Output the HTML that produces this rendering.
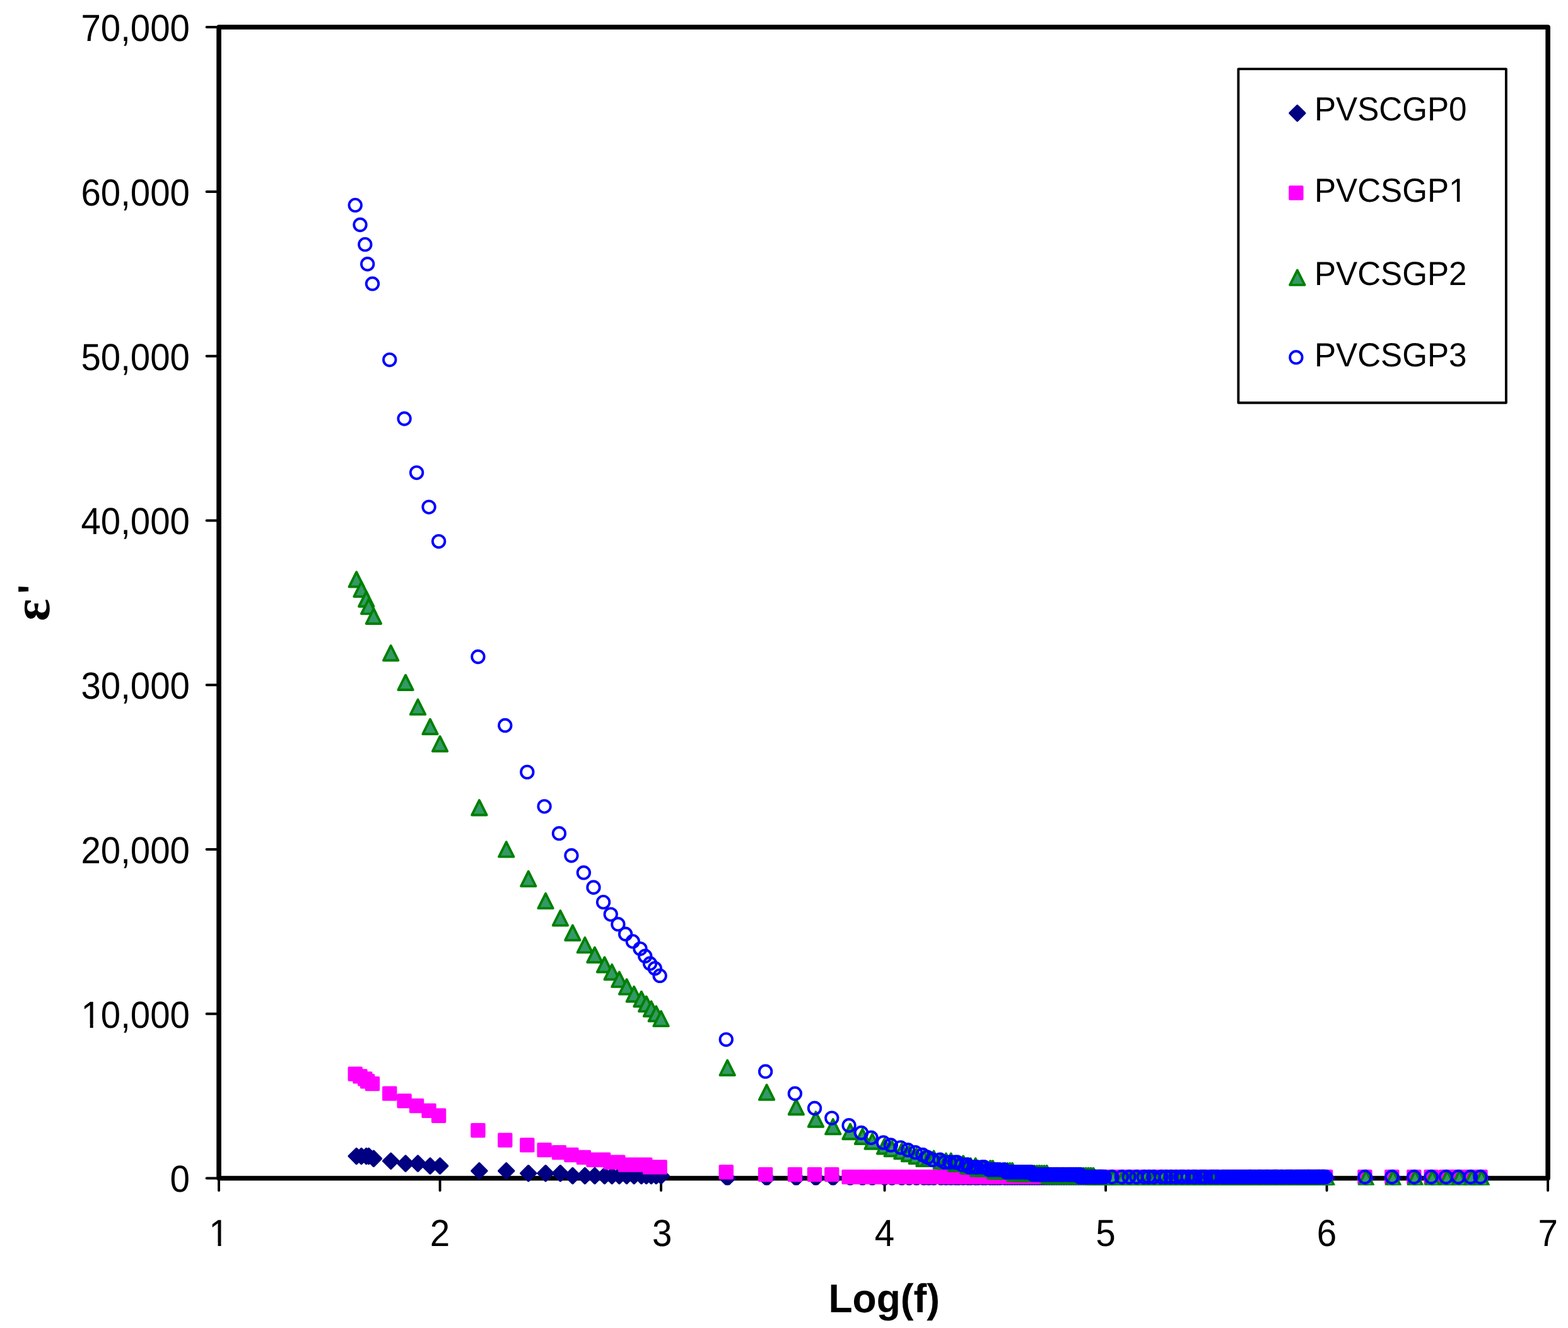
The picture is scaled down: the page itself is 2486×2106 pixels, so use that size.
<!DOCTYPE html>
<html lang="en"><head><meta charset="utf-8"><title>Dielectric constant vs Log(f)</title>
<style>html,body{margin:0;padding:0;background:#fff}body{width:2486px;height:2106px;overflow:hidden}svg{display:block}text{font-family:"Liberation Sans",sans-serif;fill:#000;text-rendering:geometricPrecision}.tk{font-size:59.8px}.lg{font-size:53px}.ti{font-size:63.7px;font-weight:bold}</style></head><body>
<svg width="2486" height="2106" viewBox="0 0 2486 2106" role="img" aria-label="Scatter chart of dielectric constant versus Log(f)">
<rect width="2486" height="2106" fill="#fff"/>
<path d="M327.56 43H347.04M327.56 303.99H347.04M327.56 564.74H347.04M327.56 825.48H347.04M327.56 1086.22H347.04M327.56 1346.97H347.04M327.56 1607.71H347.04M327.56 1868.46H347.04M347.04 1868.46V1887.91M697.57 1868.46V1887.91M1048.1 1868.46V1887.91M1402.53 1868.46V1887.91M1753.06 1868.46V1887.91M2103.59 1868.46V1887.91M2454.12 1868.46V1887.91" fill="none" stroke="#000" stroke-width="3.9" stroke-linecap="round"/>
<rect x="347.04" y="42.95" width="2107.09" height="1825.51" fill="none" stroke="#000" stroke-width="7.6" stroke-linejoin="round"/>
<text class="tk" x="300.9" y="64.8" text-anchor="end" textLength="172.37" lengthAdjust="spacingAndGlyphs">70,000</text>
<text class="tk" x="300.9" y="325.79" text-anchor="end" textLength="172.37" lengthAdjust="spacingAndGlyphs">60,000</text>
<text class="tk" x="300.9" y="586.54" text-anchor="end" textLength="172.37" lengthAdjust="spacingAndGlyphs">50,000</text>
<text class="tk" x="300.9" y="847.28" text-anchor="end" textLength="172.37" lengthAdjust="spacingAndGlyphs">40,000</text>
<text class="tk" x="300.9" y="1108.02" text-anchor="end" textLength="172.37" lengthAdjust="spacingAndGlyphs">30,000</text>
<text class="tk" x="300.9" y="1368.77" text-anchor="end" textLength="172.37" lengthAdjust="spacingAndGlyphs">20,000</text>
<text class="tk" x="300.9" y="1629.51" text-anchor="end" textLength="172.37" lengthAdjust="spacingAndGlyphs" clip-path="url(#c1)">10,000</text>
<text class="tk" x="300.9" y="1890.26" text-anchor="end" textLength="31.46" lengthAdjust="spacingAndGlyphs">0</text>
<text class="tk" x="347.04" y="1975.8" text-anchor="middle" textLength="31.46" lengthAdjust="spacingAndGlyphs" clip-path="url(#c2)">1</text>
<text class="tk" x="697.57" y="1975.8" text-anchor="middle" textLength="31.46" lengthAdjust="spacingAndGlyphs">2</text>
<text class="tk" x="1049.7" y="1975.8" text-anchor="middle" textLength="31.46" lengthAdjust="spacingAndGlyphs">3</text>
<text class="tk" x="1402.53" y="1975.8" text-anchor="middle" textLength="31.46" lengthAdjust="spacingAndGlyphs">4</text>
<text class="tk" x="1753.06" y="1975.8" text-anchor="middle" textLength="31.46" lengthAdjust="spacingAndGlyphs">5</text>
<text class="tk" x="2103.59" y="1975.8" text-anchor="middle" textLength="31.46" lengthAdjust="spacingAndGlyphs">6</text>
<text class="tk" x="2454.12" y="1975.8" text-anchor="middle" textLength="31.46" lengthAdjust="spacingAndGlyphs">7</text>
<text class="ti" x="1401.8" y="2080.9" text-anchor="middle" textLength="176.6" lengthAdjust="spacingAndGlyphs">Log(f)</text>
<text transform="translate(78 985) rotate(-90)"><tspan style="font-family:'Liberation Serif',serif;font-weight:bold;font-size:83px">ε</tspan><tspan class="ti" x="43.1" y="-4.9">'</tspan></text>
<rect x="1963.38" y="109.41" width="424.53" height="529.27" fill="#fff" stroke="#000" stroke-width="3.9" stroke-linejoin="round"/>
<path d="M2056.85 167.78l11.68 11.68l-11.68 11.68l-11.68 -11.68z" fill="#000080" stroke="#000080" stroke-width="3.89" stroke-linejoin="round"/>
<path d="M2045.17 296.21h19.47v19.46h-19.47z" fill="#ff00ff" stroke="#ff00ff" stroke-width="3.89" stroke-linejoin="round"/>
<path d="M2056.85 428.53l11.68 23.35h-23.37z" fill="#339966" stroke="#008000" stroke-width="3.89" stroke-linejoin="round"/>
<circle cx="2054.91" cy="566.68" r="9.74" fill="none" stroke="#0000ff" stroke-width="3.89"/>
<text class="lg" x="2084.0" y="191.2" textLength="241.48" lengthAdjust="spacingAndGlyphs">PVSCGP0</text>
<text class="lg" x="2084.0" y="320.2" textLength="241.48" lengthAdjust="spacingAndGlyphs" clip-path="url(#c3)">PVCSGP1</text>
<text class="lg" x="2084.0" y="452.1" textLength="241.48" lengthAdjust="spacingAndGlyphs">PVCSGP2</text>
<text class="lg" x="2084.0" y="580.6" textLength="241.48" lengthAdjust="spacingAndGlyphs">PVCSGP3</text>
<defs><clipPath id="c1"><path clip-rule="evenodd" d="M-9 -9H2500V2200H-9ZM131.82 1624.34H142.7V1630.51H131.82ZM147.68 1624.34H158.12V1630.51H147.68Z"/></clipPath><clipPath id="c2"><path clip-rule="evenodd" d="M-9 -9H2500V2200H-9ZM334.62 1970.63H345.53V1976.8H334.62ZM350.53 1970.63H361V1976.8H350.53Z"/></clipPath><clipPath id="c3"><path clip-rule="evenodd" d="M-9 -9H2500V2200H-9ZM2299.94 315.54H2309.9V321.2H2299.94ZM2314.42 315.54H2323.98V321.2H2314.42Z"/></clipPath><clipPath id="pc"><rect x="330" y="30" width="2140" height="1849.53"/></clipPath></defs>
<g clip-path="url(#pc)">
<path d="M565.15 1821.76l11.68 11.68l-11.68 11.68l-11.68 -11.68zM572.94 1821.76l11.68 11.68l-11.68 11.68l-11.68 -11.68zM580.73 1821.76l11.68 11.68l-11.68 11.68l-11.68 -11.68zM584.62 1821.76l11.68 11.68l-11.68 11.68l-11.68 -11.68zM592.41 1825.65l11.68 11.68l-11.68 11.68l-11.68 -11.68zM619.67 1829.54l11.68 11.68l-11.68 11.68l-11.68 -11.68zM643.04 1833.43l11.68 11.68l-11.68 11.68l-11.68 -11.68zM662.52 1833.43l11.68 11.68l-11.68 11.68l-11.68 -11.68zM681.99 1837.32l11.68 11.68l-11.68 11.68l-11.68 -11.68zM697.57 1837.32l11.68 11.68l-11.68 11.68l-11.68 -11.68zM759.89 1845.11l11.68 11.68l-11.68 11.68l-11.68 -11.68zM802.73 1845.11l11.68 11.68l-11.68 11.68l-11.68 -11.68zM837.78 1849l11.68 11.68l-11.68 11.68l-11.68 -11.68zM865.05 1849l11.68 11.68l-11.68 11.68l-11.68 -11.68zM888.41 1849l11.68 11.68l-11.68 11.68l-11.68 -11.68zM907.89 1852.89l11.68 11.68l-11.68 11.68l-11.68 -11.68zM927.36 1852.89l11.68 11.68l-11.68 11.68l-11.68 -11.68zM942.94 1852.89l11.68 11.68l-11.68 11.68l-11.68 -11.68zM958.52 1852.89l11.68 11.68l-11.68 11.68l-11.68 -11.68zM970.21 1852.89l11.68 11.68l-11.68 11.68l-11.68 -11.68zM981.89 1852.89l11.68 11.68l-11.68 11.68l-11.68 -11.68zM993.57 1852.89l11.68 11.68l-11.68 11.68l-11.68 -11.68zM1005.26 1852.89l11.68 11.68l-11.68 11.68l-11.68 -11.68zM1016.94 1852.89l11.68 11.68l-11.68 11.68l-11.68 -11.68zM1024.73 1852.89l11.68 11.68l-11.68 11.68l-11.68 -11.68zM1032.52 1852.89l11.68 11.68l-11.68 11.68l-11.68 -11.68zM1040.31 1852.89l11.68 11.68l-11.68 11.68l-11.68 -11.68zM1048.1 1852.89l11.68 11.68l-11.68 11.68l-11.68 -11.68zM1153.26 1856.78l11.68 11.68l-11.68 11.68l-11.68 -11.68zM1215.58 1856.78l11.68 11.68l-11.68 11.68l-11.68 -11.68zM1262.32 1856.78l11.68 11.68l-11.68 11.68l-11.68 -11.68zM1293.47 1856.78l11.68 11.68l-11.68 11.68l-11.68 -11.68zM1320.74 1856.78l11.68 11.68l-11.68 11.68l-11.68 -11.68zM1348 1856.78l11.68 11.68l-11.68 11.68l-11.68 -11.68zM1367.47 1856.78l11.68 11.68l-11.68 11.68l-11.68 -11.68zM1383.05 1856.78l11.68 11.68l-11.68 11.68l-11.68 -11.68zM1402.53 1856.78l11.68 11.68l-11.68 11.68l-11.68 -11.68zM1414.21 1856.78l11.68 11.68l-11.68 11.68l-11.68 -11.68zM1429.79 1856.78l11.68 11.68l-11.68 11.68l-11.68 -11.68zM1441.48 1856.78l11.68 11.68l-11.68 11.68l-11.68 -11.68zM1453.16 1856.78l11.68 11.68l-11.68 11.68l-11.68 -11.68zM1464.84 1856.78l11.68 11.68l-11.68 11.68l-11.68 -11.68zM1472.63 1856.78l11.68 11.68l-11.68 11.68l-11.68 -11.68zM1480.42 1856.78l11.68 11.68l-11.68 11.68l-11.68 -11.68zM1492.11 1856.78l11.68 11.68l-11.68 11.68l-11.68 -11.68zM1499.9 1856.78l11.68 11.68l-11.68 11.68l-11.68 -11.68zM1507.69 1856.78l11.68 11.68l-11.68 11.68l-11.68 -11.68zM1515.48 1856.78l11.68 11.68l-11.68 11.68l-11.68 -11.68zM1519.37 1856.78l11.68 11.68l-11.68 11.68l-11.68 -11.68zM1527.16 1856.78l11.68 11.68l-11.68 11.68l-11.68 -11.68zM1534.95 1856.78l11.68 11.68l-11.68 11.68l-11.68 -11.68zM1538.85 1856.78l11.68 11.68l-11.68 11.68l-11.68 -11.68zM1546.64 1856.78l11.68 11.68l-11.68 11.68l-11.68 -11.68zM1550.53 1856.78l11.68 11.68l-11.68 11.68l-11.68 -11.68zM1558.32 1856.78l11.68 11.68l-11.68 11.68l-11.68 -11.68zM1562.21 1856.78l11.68 11.68l-11.68 11.68l-11.68 -11.68zM1570 1856.78l11.68 11.68l-11.68 11.68l-11.68 -11.68zM1573.9 1856.78l11.68 11.68l-11.68 11.68l-11.68 -11.68zM1577.79 1856.78l11.68 11.68l-11.68 11.68l-11.68 -11.68zM1581.69 1856.78l11.68 11.68l-11.68 11.68l-11.68 -11.68zM1585.58 1856.78l11.68 11.68l-11.68 11.68l-11.68 -11.68zM1593.37 1856.78l11.68 11.68l-11.68 11.68l-11.68 -11.68zM1597.27 1856.78l11.68 11.68l-11.68 11.68l-11.68 -11.68zM1601.16 1856.78l11.68 11.68l-11.68 11.68l-11.68 -11.68zM1605.06 1856.78l11.68 11.68l-11.68 11.68l-11.68 -11.68zM1608.95 1856.78l11.68 11.68l-11.68 11.68l-11.68 -11.68zM1612.85 1856.78l11.68 11.68l-11.68 11.68l-11.68 -11.68zM1616.74 1856.78l11.68 11.68l-11.68 11.68l-11.68 -11.68zM1620.64 1856.78l11.68 11.68l-11.68 11.68l-11.68 -11.68zM1624.53 1856.78l11.68 11.68l-11.68 11.68l-11.68 -11.68zM1628.43 1856.78l11.68 11.68l-11.68 11.68l-11.68 -11.68zM1628.43 1856.78l11.68 11.68l-11.68 11.68l-11.68 -11.68zM1632.32 1856.78l11.68 11.68l-11.68 11.68l-11.68 -11.68zM1636.22 1856.78l11.68 11.68l-11.68 11.68l-11.68 -11.68zM1640.11 1856.78l11.68 11.68l-11.68 11.68l-11.68 -11.68zM1644.01 1856.78l11.68 11.68l-11.68 11.68l-11.68 -11.68zM1647.9 1856.78l11.68 11.68l-11.68 11.68l-11.68 -11.68zM1647.9 1856.78l11.68 11.68l-11.68 11.68l-11.68 -11.68zM1651.8 1856.78l11.68 11.68l-11.68 11.68l-11.68 -11.68zM1655.69 1856.78l11.68 11.68l-11.68 11.68l-11.68 -11.68zM1659.58 1856.78l11.68 11.68l-11.68 11.68l-11.68 -11.68zM1659.58 1856.78l11.68 11.68l-11.68 11.68l-11.68 -11.68zM1663.48 1856.78l11.68 11.68l-11.68 11.68l-11.68 -11.68zM1667.37 1856.78l11.68 11.68l-11.68 11.68l-11.68 -11.68zM1667.37 1856.78l11.68 11.68l-11.68 11.68l-11.68 -11.68zM1671.27 1856.78l11.68 11.68l-11.68 11.68l-11.68 -11.68zM1675.16 1856.78l11.68 11.68l-11.68 11.68l-11.68 -11.68zM1675.16 1856.78l11.68 11.68l-11.68 11.68l-11.68 -11.68zM1679.06 1856.78l11.68 11.68l-11.68 11.68l-11.68 -11.68zM1682.95 1856.78l11.68 11.68l-11.68 11.68l-11.68 -11.68zM1682.95 1856.78l11.68 11.68l-11.68 11.68l-11.68 -11.68zM1686.85 1856.78l11.68 11.68l-11.68 11.68l-11.68 -11.68zM1686.85 1856.78l11.68 11.68l-11.68 11.68l-11.68 -11.68zM1690.74 1856.78l11.68 11.68l-11.68 11.68l-11.68 -11.68zM1694.64 1856.78l11.68 11.68l-11.68 11.68l-11.68 -11.68zM1694.64 1856.78l11.68 11.68l-11.68 11.68l-11.68 -11.68zM1698.53 1856.78l11.68 11.68l-11.68 11.68l-11.68 -11.68zM1698.53 1856.78l11.68 11.68l-11.68 11.68l-11.68 -11.68zM1702.43 1856.78l11.68 11.68l-11.68 11.68l-11.68 -11.68zM1702.43 1856.78l11.68 11.68l-11.68 11.68l-11.68 -11.68zM1706.32 1856.78l11.68 11.68l-11.68 11.68l-11.68 -11.68zM1706.32 1856.78l11.68 11.68l-11.68 11.68l-11.68 -11.68zM1710.22 1856.78l11.68 11.68l-11.68 11.68l-11.68 -11.68zM1710.22 1856.78l11.68 11.68l-11.68 11.68l-11.68 -11.68zM1714.11 1856.78l11.68 11.68l-11.68 11.68l-11.68 -11.68zM1714.11 1856.78l11.68 11.68l-11.68 11.68l-11.68 -11.68zM1718.01 1856.78l11.68 11.68l-11.68 11.68l-11.68 -11.68zM1718.01 1856.78l11.68 11.68l-11.68 11.68l-11.68 -11.68zM1721.9 1856.78l11.68 11.68l-11.68 11.68l-11.68 -11.68zM1721.9 1856.78l11.68 11.68l-11.68 11.68l-11.68 -11.68zM1725.8 1856.78l11.68 11.68l-11.68 11.68l-11.68 -11.68zM1725.8 1856.78l11.68 11.68l-11.68 11.68l-11.68 -11.68zM1729.69 1856.78l11.68 11.68l-11.68 11.68l-11.68 -11.68zM1729.69 1856.78l11.68 11.68l-11.68 11.68l-11.68 -11.68zM1733.59 1856.78l11.68 11.68l-11.68 11.68l-11.68 -11.68zM1733.59 1856.78l11.68 11.68l-11.68 11.68l-11.68 -11.68zM1737.48 1856.78l11.68 11.68l-11.68 11.68l-11.68 -11.68zM1737.48 1856.78l11.68 11.68l-11.68 11.68l-11.68 -11.68zM1737.48 1856.78l11.68 11.68l-11.68 11.68l-11.68 -11.68zM1741.38 1856.78l11.68 11.68l-11.68 11.68l-11.68 -11.68zM1741.38 1856.78l11.68 11.68l-11.68 11.68l-11.68 -11.68zM1745.27 1856.78l11.68 11.68l-11.68 11.68l-11.68 -11.68zM1745.27 1856.78l11.68 11.68l-11.68 11.68l-11.68 -11.68zM1745.27 1856.78l11.68 11.68l-11.68 11.68l-11.68 -11.68zM1749.17 1856.78l11.68 11.68l-11.68 11.68l-11.68 -11.68zM1749.17 1856.78l11.68 11.68l-11.68 11.68l-11.68 -11.68zM1753.06 1856.78l11.68 11.68l-11.68 11.68l-11.68 -11.68zM1764.74 1856.78l11.68 11.68l-11.68 11.68l-11.68 -11.68zM1780.32 1856.78l11.68 11.68l-11.68 11.68l-11.68 -11.68zM1792.01 1856.78l11.68 11.68l-11.68 11.68l-11.68 -11.68zM1803.69 1856.78l11.68 11.68l-11.68 11.68l-11.68 -11.68zM1815.38 1856.78l11.68 11.68l-11.68 11.68l-11.68 -11.68zM1823.17 1856.78l11.68 11.68l-11.68 11.68l-11.68 -11.68zM1830.96 1856.78l11.68 11.68l-11.68 11.68l-11.68 -11.68zM1842.64 1856.78l11.68 11.68l-11.68 11.68l-11.68 -11.68zM1850.43 1856.78l11.68 11.68l-11.68 11.68l-11.68 -11.68zM1858.22 1856.78l11.68 11.68l-11.68 11.68l-11.68 -11.68zM1866.01 1856.78l11.68 11.68l-11.68 11.68l-11.68 -11.68zM1873.8 1856.78l11.68 11.68l-11.68 11.68l-11.68 -11.68zM1877.69 1856.78l11.68 11.68l-11.68 11.68l-11.68 -11.68zM1885.48 1856.78l11.68 11.68l-11.68 11.68l-11.68 -11.68zM1893.27 1856.78l11.68 11.68l-11.68 11.68l-11.68 -11.68zM1897.17 1856.78l11.68 11.68l-11.68 11.68l-11.68 -11.68zM1904.96 1856.78l11.68 11.68l-11.68 11.68l-11.68 -11.68zM1908.85 1856.78l11.68 11.68l-11.68 11.68l-11.68 -11.68zM1912.75 1856.78l11.68 11.68l-11.68 11.68l-11.68 -11.68zM1920.54 1856.78l11.68 11.68l-11.68 11.68l-11.68 -11.68zM1924.43 1856.78l11.68 11.68l-11.68 11.68l-11.68 -11.68zM1928.33 1856.78l11.68 11.68l-11.68 11.68l-11.68 -11.68zM1932.22 1856.78l11.68 11.68l-11.68 11.68l-11.68 -11.68zM1940.01 1856.78l11.68 11.68l-11.68 11.68l-11.68 -11.68zM1943.91 1856.78l11.68 11.68l-11.68 11.68l-11.68 -11.68zM1947.8 1856.78l11.68 11.68l-11.68 11.68l-11.68 -11.68zM1951.69 1856.78l11.68 11.68l-11.68 11.68l-11.68 -11.68zM1955.59 1856.78l11.68 11.68l-11.68 11.68l-11.68 -11.68zM1959.48 1856.78l11.68 11.68l-11.68 11.68l-11.68 -11.68zM1963.38 1856.78l11.68 11.68l-11.68 11.68l-11.68 -11.68zM1967.27 1856.78l11.68 11.68l-11.68 11.68l-11.68 -11.68zM1971.17 1856.78l11.68 11.68l-11.68 11.68l-11.68 -11.68zM1975.06 1856.78l11.68 11.68l-11.68 11.68l-11.68 -11.68zM1978.96 1856.78l11.68 11.68l-11.68 11.68l-11.68 -11.68zM1982.85 1856.78l11.68 11.68l-11.68 11.68l-11.68 -11.68zM1982.85 1856.78l11.68 11.68l-11.68 11.68l-11.68 -11.68zM1986.75 1856.78l11.68 11.68l-11.68 11.68l-11.68 -11.68zM1990.64 1856.78l11.68 11.68l-11.68 11.68l-11.68 -11.68zM1994.54 1856.78l11.68 11.68l-11.68 11.68l-11.68 -11.68zM1998.43 1856.78l11.68 11.68l-11.68 11.68l-11.68 -11.68zM1998.43 1856.78l11.68 11.68l-11.68 11.68l-11.68 -11.68zM2002.33 1856.78l11.68 11.68l-11.68 11.68l-11.68 -11.68zM2006.22 1856.78l11.68 11.68l-11.68 11.68l-11.68 -11.68zM2010.12 1856.78l11.68 11.68l-11.68 11.68l-11.68 -11.68zM2010.12 1856.78l11.68 11.68l-11.68 11.68l-11.68 -11.68zM2014.01 1856.78l11.68 11.68l-11.68 11.68l-11.68 -11.68zM2017.91 1856.78l11.68 11.68l-11.68 11.68l-11.68 -11.68zM2021.8 1856.78l11.68 11.68l-11.68 11.68l-11.68 -11.68zM2021.8 1856.78l11.68 11.68l-11.68 11.68l-11.68 -11.68zM2025.7 1856.78l11.68 11.68l-11.68 11.68l-11.68 -11.68zM2025.7 1856.78l11.68 11.68l-11.68 11.68l-11.68 -11.68zM2029.59 1856.78l11.68 11.68l-11.68 11.68l-11.68 -11.68zM2033.49 1856.78l11.68 11.68l-11.68 11.68l-11.68 -11.68zM2033.49 1856.78l11.68 11.68l-11.68 11.68l-11.68 -11.68zM2037.38 1856.78l11.68 11.68l-11.68 11.68l-11.68 -11.68zM2041.28 1856.78l11.68 11.68l-11.68 11.68l-11.68 -11.68zM2041.28 1856.78l11.68 11.68l-11.68 11.68l-11.68 -11.68zM2045.17 1856.78l11.68 11.68l-11.68 11.68l-11.68 -11.68zM2045.17 1856.78l11.68 11.68l-11.68 11.68l-11.68 -11.68zM2049.06 1856.78l11.68 11.68l-11.68 11.68l-11.68 -11.68zM2049.06 1856.78l11.68 11.68l-11.68 11.68l-11.68 -11.68zM2052.96 1856.78l11.68 11.68l-11.68 11.68l-11.68 -11.68zM2056.85 1856.78l11.68 11.68l-11.68 11.68l-11.68 -11.68zM2056.85 1856.78l11.68 11.68l-11.68 11.68l-11.68 -11.68zM2060.75 1856.78l11.68 11.68l-11.68 11.68l-11.68 -11.68zM2060.75 1856.78l11.68 11.68l-11.68 11.68l-11.68 -11.68zM2064.64 1856.78l11.68 11.68l-11.68 11.68l-11.68 -11.68zM2064.64 1856.78l11.68 11.68l-11.68 11.68l-11.68 -11.68zM2068.54 1856.78l11.68 11.68l-11.68 11.68l-11.68 -11.68zM2068.54 1856.78l11.68 11.68l-11.68 11.68l-11.68 -11.68zM2072.43 1856.78l11.68 11.68l-11.68 11.68l-11.68 -11.68zM2072.43 1856.78l11.68 11.68l-11.68 11.68l-11.68 -11.68zM2076.33 1856.78l11.68 11.68l-11.68 11.68l-11.68 -11.68zM2076.33 1856.78l11.68 11.68l-11.68 11.68l-11.68 -11.68zM2076.33 1856.78l11.68 11.68l-11.68 11.68l-11.68 -11.68zM2080.22 1856.78l11.68 11.68l-11.68 11.68l-11.68 -11.68zM2080.22 1856.78l11.68 11.68l-11.68 11.68l-11.68 -11.68zM2084.12 1856.78l11.68 11.68l-11.68 11.68l-11.68 -11.68zM2084.12 1856.78l11.68 11.68l-11.68 11.68l-11.68 -11.68zM2088.01 1856.78l11.68 11.68l-11.68 11.68l-11.68 -11.68zM2088.01 1856.78l11.68 11.68l-11.68 11.68l-11.68 -11.68zM2091.91 1856.78l11.68 11.68l-11.68 11.68l-11.68 -11.68zM2091.91 1856.78l11.68 11.68l-11.68 11.68l-11.68 -11.68zM2091.91 1856.78l11.68 11.68l-11.68 11.68l-11.68 -11.68zM2095.8 1856.78l11.68 11.68l-11.68 11.68l-11.68 -11.68zM2095.8 1856.78l11.68 11.68l-11.68 11.68l-11.68 -11.68zM2099.7 1856.78l11.68 11.68l-11.68 11.68l-11.68 -11.68zM2099.7 1856.78l11.68 11.68l-11.68 11.68l-11.68 -11.68zM2099.7 1856.78l11.68 11.68l-11.68 11.68l-11.68 -11.68zM2103.59 1856.78l11.68 11.68l-11.68 11.68l-11.68 -11.68zM2165.91 1856.78l11.68 11.68l-11.68 11.68l-11.68 -11.68zM2208.75 1856.78l11.68 11.68l-11.68 11.68l-11.68 -11.68zM2243.8 1856.78l11.68 11.68l-11.68 11.68l-11.68 -11.68zM2271.07 1856.78l11.68 11.68l-11.68 11.68l-11.68 -11.68zM2294.44 1856.78l11.68 11.68l-11.68 11.68l-11.68 -11.68zM2313.91 1856.78l11.68 11.68l-11.68 11.68l-11.68 -11.68zM2333.39 1856.78l11.68 11.68l-11.68 11.68l-11.68 -11.68zM2348.96 1856.78l11.68 11.68l-11.68 11.68l-11.68 -11.68z" fill="#000080" stroke="#000080" stroke-width="3.89" stroke-linejoin="round"/>
<path d="M553.46 1693.33h19.47v19.46h-19.47zM561.25 1697.22h19.47v19.46h-19.47zM569.04 1701.11h19.47v19.46h-19.47zM572.94 1705h19.47v19.46h-19.47zM580.73 1708.9h19.47v19.46h-19.47zM607.99 1724.46h19.47v19.46h-19.47zM631.36 1736.14h19.47v19.46h-19.47zM650.83 1743.92h19.47v19.46h-19.47zM670.31 1751.71h19.47v19.46h-19.47zM685.88 1759.49h19.47v19.46h-19.47zM748.2 1782.84h19.47v19.46h-19.47zM791.04 1798.41h19.47v19.46h-19.47zM826.1 1806.19h19.47v19.46h-19.47zM853.36 1813.97h19.47v19.46h-19.47zM876.73 1817.86h19.47v19.46h-19.47zM896.2 1821.76h19.47v19.46h-19.47zM915.68 1825.65h19.47v19.46h-19.47zM931.26 1829.54h19.47v19.46h-19.47zM946.84 1829.54h19.47v19.46h-19.47zM958.52 1833.43h19.47v19.46h-19.47zM970.21 1833.43h19.47v19.46h-19.47zM981.89 1837.32h19.47v19.46h-19.47zM993.57 1837.32h19.47v19.46h-19.47zM1005.26 1837.32h19.47v19.46h-19.47zM1013.05 1837.32h19.47v19.46h-19.47zM1020.84 1841.21h19.47v19.46h-19.47zM1028.63 1841.21h19.47v19.46h-19.47zM1036.42 1841.21h19.47v19.46h-19.47zM1141.58 1849h19.47v19.46h-19.47zM1203.89 1852.89h19.47v19.46h-19.47zM1250.63 1852.89h19.47v19.46h-19.47zM1281.79 1852.89h19.47v19.46h-19.47zM1309.05 1852.89h19.47v19.46h-19.47zM1336.32 1856.78h19.47v19.46h-19.47zM1355.79 1856.78h19.47v19.46h-19.47zM1371.37 1856.78h19.47v19.46h-19.47zM1390.84 1856.78h19.47v19.46h-19.47zM1402.53 1856.78h19.47v19.46h-19.47zM1418.11 1856.78h19.47v19.46h-19.47zM1429.79 1856.78h19.47v19.46h-19.47zM1441.48 1856.78h19.47v19.46h-19.47zM1453.16 1856.78h19.47v19.46h-19.47zM1460.95 1856.78h19.47v19.46h-19.47zM1468.74 1856.78h19.47v19.46h-19.47zM1480.42 1856.78h19.47v19.46h-19.47zM1488.21 1856.78h19.47v19.46h-19.47zM1496 1856.78h19.47v19.46h-19.47zM1503.79 1856.78h19.47v19.46h-19.47zM1507.69 1856.78h19.47v19.46h-19.47zM1515.48 1856.78h19.47v19.46h-19.47zM1523.27 1856.78h19.47v19.46h-19.47zM1527.16 1856.78h19.47v19.46h-19.47zM1534.95 1856.78h19.47v19.46h-19.47zM1538.85 1856.78h19.47v19.46h-19.47zM1546.64 1856.78h19.47v19.46h-19.47zM1550.53 1856.78h19.47v19.46h-19.47zM1558.32 1856.78h19.47v19.46h-19.47zM1562.21 1856.78h19.47v19.46h-19.47zM1566.11 1856.78h19.47v19.46h-19.47zM1570 1856.78h19.47v19.46h-19.47zM1573.9 1856.78h19.47v19.46h-19.47zM1581.69 1856.78h19.47v19.46h-19.47zM1585.58 1856.78h19.47v19.46h-19.47zM1589.48 1856.78h19.47v19.46h-19.47zM1593.37 1856.78h19.47v19.46h-19.47zM1597.27 1856.78h19.47v19.46h-19.47zM1601.16 1856.78h19.47v19.46h-19.47zM1605.06 1856.78h19.47v19.46h-19.47zM1608.95 1856.78h19.47v19.46h-19.47zM1612.85 1856.78h19.47v19.46h-19.47zM1616.74 1856.78h19.47v19.46h-19.47zM1616.74 1856.78h19.47v19.46h-19.47zM1620.64 1856.78h19.47v19.46h-19.47zM1624.53 1856.78h19.47v19.46h-19.47zM1628.43 1856.78h19.47v19.46h-19.47zM1632.32 1856.78h19.47v19.46h-19.47zM1636.22 1856.78h19.47v19.46h-19.47zM1636.22 1856.78h19.47v19.46h-19.47zM1640.11 1856.78h19.47v19.46h-19.47zM1644.01 1856.78h19.47v19.46h-19.47zM1647.9 1856.78h19.47v19.46h-19.47zM1647.9 1856.78h19.47v19.46h-19.47zM1651.8 1856.78h19.47v19.46h-19.47zM1655.69 1856.78h19.47v19.46h-19.47zM1655.69 1856.78h19.47v19.46h-19.47zM1659.58 1856.78h19.47v19.46h-19.47zM1663.48 1856.78h19.47v19.46h-19.47zM1663.48 1856.78h19.47v19.46h-19.47zM1667.37 1856.78h19.47v19.46h-19.47zM1671.27 1856.78h19.47v19.46h-19.47zM1671.27 1856.78h19.47v19.46h-19.47zM1675.16 1856.78h19.47v19.46h-19.47zM1675.16 1856.78h19.47v19.46h-19.47zM1679.06 1856.78h19.47v19.46h-19.47zM1682.95 1856.78h19.47v19.46h-19.47zM1682.95 1856.78h19.47v19.46h-19.47zM1686.85 1856.78h19.47v19.46h-19.47zM1686.85 1856.78h19.47v19.46h-19.47zM1690.74 1856.78h19.47v19.46h-19.47zM1690.74 1856.78h19.47v19.46h-19.47zM1694.64 1856.78h19.47v19.46h-19.47zM1694.64 1856.78h19.47v19.46h-19.47zM1698.53 1856.78h19.47v19.46h-19.47zM1698.53 1856.78h19.47v19.46h-19.47zM1702.43 1856.78h19.47v19.46h-19.47zM1702.43 1856.78h19.47v19.46h-19.47zM1706.32 1856.78h19.47v19.46h-19.47zM1706.32 1856.78h19.47v19.46h-19.47zM1710.22 1856.78h19.47v19.46h-19.47zM1710.22 1856.78h19.47v19.46h-19.47zM1714.11 1856.78h19.47v19.46h-19.47zM1714.11 1856.78h19.47v19.46h-19.47zM1718.01 1856.78h19.47v19.46h-19.47zM1718.01 1856.78h19.47v19.46h-19.47zM1721.9 1856.78h19.47v19.46h-19.47zM1721.9 1856.78h19.47v19.46h-19.47zM1725.8 1856.78h19.47v19.46h-19.47zM1725.8 1856.78h19.47v19.46h-19.47zM1725.8 1856.78h19.47v19.46h-19.47zM1729.69 1856.78h19.47v19.46h-19.47zM1729.69 1856.78h19.47v19.46h-19.47zM1733.59 1856.78h19.47v19.46h-19.47zM1733.59 1856.78h19.47v19.46h-19.47zM1733.59 1856.78h19.47v19.46h-19.47zM1737.48 1856.78h19.47v19.46h-19.47zM1737.48 1856.78h19.47v19.46h-19.47zM1741.38 1856.78h19.47v19.46h-19.47zM1753.06 1856.78h19.47v19.46h-19.47zM1768.64 1856.78h19.47v19.46h-19.47zM1780.32 1856.78h19.47v19.46h-19.47zM1792.01 1856.78h19.47v19.46h-19.47zM1803.69 1856.78h19.47v19.46h-19.47zM1811.48 1856.78h19.47v19.46h-19.47zM1819.27 1856.78h19.47v19.46h-19.47zM1830.96 1856.78h19.47v19.46h-19.47zM1838.75 1856.78h19.47v19.46h-19.47zM1846.54 1856.78h19.47v19.46h-19.47zM1854.32 1856.78h19.47v19.46h-19.47zM1862.11 1856.78h19.47v19.46h-19.47zM1866.01 1856.78h19.47v19.46h-19.47zM1873.8 1856.78h19.47v19.46h-19.47zM1881.59 1856.78h19.47v19.46h-19.47zM1885.48 1856.78h19.47v19.46h-19.47zM1893.27 1856.78h19.47v19.46h-19.47zM1897.17 1856.78h19.47v19.46h-19.47zM1901.06 1856.78h19.47v19.46h-19.47zM1908.85 1856.78h19.47v19.46h-19.47zM1912.75 1856.78h19.47v19.46h-19.47zM1916.64 1856.78h19.47v19.46h-19.47zM1920.54 1856.78h19.47v19.46h-19.47zM1928.33 1856.78h19.47v19.46h-19.47zM1932.22 1856.78h19.47v19.46h-19.47zM1936.12 1856.78h19.47v19.46h-19.47zM1940.01 1856.78h19.47v19.46h-19.47zM1943.91 1856.78h19.47v19.46h-19.47zM1947.8 1856.78h19.47v19.46h-19.47zM1951.69 1856.78h19.47v19.46h-19.47zM1955.59 1856.78h19.47v19.46h-19.47zM1959.48 1856.78h19.47v19.46h-19.47zM1963.38 1856.78h19.47v19.46h-19.47zM1967.27 1856.78h19.47v19.46h-19.47zM1971.17 1856.78h19.47v19.46h-19.47zM1971.17 1856.78h19.47v19.46h-19.47zM1975.06 1856.78h19.47v19.46h-19.47zM1978.96 1856.78h19.47v19.46h-19.47zM1982.85 1856.78h19.47v19.46h-19.47zM1986.75 1856.78h19.47v19.46h-19.47zM1986.75 1856.78h19.47v19.46h-19.47zM1990.64 1856.78h19.47v19.46h-19.47zM1994.54 1856.78h19.47v19.46h-19.47zM1998.43 1856.78h19.47v19.46h-19.47zM1998.43 1856.78h19.47v19.46h-19.47zM2002.33 1856.78h19.47v19.46h-19.47zM2006.22 1856.78h19.47v19.46h-19.47zM2010.12 1856.78h19.47v19.46h-19.47zM2010.12 1856.78h19.47v19.46h-19.47zM2014.01 1856.78h19.47v19.46h-19.47zM2014.01 1856.78h19.47v19.46h-19.47zM2017.91 1856.78h19.47v19.46h-19.47zM2021.8 1856.78h19.47v19.46h-19.47zM2021.8 1856.78h19.47v19.46h-19.47zM2025.7 1856.78h19.47v19.46h-19.47zM2029.59 1856.78h19.47v19.46h-19.47zM2029.59 1856.78h19.47v19.46h-19.47zM2033.49 1856.78h19.47v19.46h-19.47zM2033.49 1856.78h19.47v19.46h-19.47zM2037.38 1856.78h19.47v19.46h-19.47zM2037.38 1856.78h19.47v19.46h-19.47zM2041.28 1856.78h19.47v19.46h-19.47zM2045.17 1856.78h19.47v19.46h-19.47zM2045.17 1856.78h19.47v19.46h-19.47zM2049.06 1856.78h19.47v19.46h-19.47zM2049.06 1856.78h19.47v19.46h-19.47zM2052.96 1856.78h19.47v19.46h-19.47zM2052.96 1856.78h19.47v19.46h-19.47zM2056.85 1856.78h19.47v19.46h-19.47zM2056.85 1856.78h19.47v19.46h-19.47zM2060.75 1856.78h19.47v19.46h-19.47zM2060.75 1856.78h19.47v19.46h-19.47zM2064.64 1856.78h19.47v19.46h-19.47zM2064.64 1856.78h19.47v19.46h-19.47zM2064.64 1856.78h19.47v19.46h-19.47zM2068.54 1856.78h19.47v19.46h-19.47zM2068.54 1856.78h19.47v19.46h-19.47zM2072.43 1856.78h19.47v19.46h-19.47zM2072.43 1856.78h19.47v19.46h-19.47zM2076.33 1856.78h19.47v19.46h-19.47zM2076.33 1856.78h19.47v19.46h-19.47zM2080.22 1856.78h19.47v19.46h-19.47zM2080.22 1856.78h19.47v19.46h-19.47zM2080.22 1856.78h19.47v19.46h-19.47zM2084.12 1856.78h19.47v19.46h-19.47zM2084.12 1856.78h19.47v19.46h-19.47zM2088.01 1856.78h19.47v19.46h-19.47zM2088.01 1856.78h19.47v19.46h-19.47zM2088.01 1856.78h19.47v19.46h-19.47zM2091.91 1856.78h19.47v19.46h-19.47zM2154.22 1856.78h19.47v19.46h-19.47zM2197.07 1856.78h19.47v19.46h-19.47zM2232.12 1856.78h19.47v19.46h-19.47zM2259.38 1856.78h19.47v19.46h-19.47zM2282.75 1856.78h19.47v19.46h-19.47zM2302.23 1856.78h19.47v19.46h-19.47zM2321.7 1856.78h19.47v19.46h-19.47zM2337.28 1856.78h19.47v19.46h-19.47z" fill="#ff00ff" stroke="#ff00ff" stroke-width="3.89" stroke-linejoin="round"/>
<g fill="#339966" stroke="#008000" stroke-width="3.89" stroke-linejoin="round">
<path d="M565.15 907.21l11.68 23.35h-23.37z"/>
<path d="M572.94 922.77l11.68 23.35h-23.37z"/>
<path d="M580.73 938.34l11.68 23.35h-23.37z"/>
<path d="M584.62 950.01l11.68 23.35h-23.37z"/>
<path d="M592.41 965.58l11.68 23.35h-23.37z"/>
<path d="M619.67 1023.96l11.68 23.35h-23.37z"/>
<path d="M643.04 1070.66l11.68 23.35h-23.37z"/>
<path d="M662.52 1109.57l11.68 23.35h-23.37z"/>
<path d="M681.99 1140.71l11.68 23.35h-23.37z"/>
<path d="M697.57 1167.95l11.68 23.35h-23.37z"/>
<path d="M759.89 1269.13l11.68 23.35h-23.37z"/>
<path d="M802.73 1335.29l11.68 23.35h-23.37z"/>
<path d="M837.78 1381.99l11.68 23.35h-23.37z"/>
<path d="M865.05 1417.02l11.68 23.35h-23.37z"/>
<path d="M888.41 1444.26l11.68 23.35h-23.37z"/>
<path d="M907.89 1467.61l11.68 23.35h-23.37z"/>
<path d="M927.36 1487.07l11.68 23.35h-23.37z"/>
<path d="M942.94 1502.64l11.68 23.35h-23.37z"/>
<path d="M958.52 1518.2l11.68 23.35h-23.37z"/>
<path d="M970.21 1529.88l11.68 23.35h-23.37z"/>
<path d="M981.89 1541.55l11.68 23.35h-23.37z"/>
<path d="M993.57 1553.23l11.68 23.35h-23.37z"/>
<path d="M1005.26 1564.9l11.68 23.35h-23.37z"/>
<path d="M1016.94 1572.69l11.68 23.35h-23.37z"/>
<path d="M1024.73 1580.47l11.68 23.35h-23.37z"/>
<path d="M1032.52 1588.25l11.68 23.35h-23.37z"/>
<path d="M1040.31 1596.04l11.68 23.35h-23.37z"/>
<path d="M1048.1 1603.82l11.68 23.35h-23.37z"/>
<path d="M1153.26 1681.65l11.68 23.35h-23.37z"/>
<path d="M1215.58 1720.57l11.68 23.35h-23.37z"/>
<path d="M1262.32 1743.92l11.68 23.35h-23.37z"/>
<path d="M1293.47 1763.38l11.68 23.35h-23.37z"/>
<path d="M1320.74 1775.06l11.68 23.35h-23.37z"/>
<path d="M1348 1782.84l11.68 23.35h-23.37z"/>
<path d="M1367.47 1790.62l11.68 23.35h-23.37z"/>
<path d="M1383.05 1798.41l11.68 23.35h-23.37z"/>
<path d="M1402.53 1806.19l11.68 23.35h-23.37z"/>
<path d="M1414.21 1810.08l11.68 23.35h-23.37z"/>
<path d="M1429.79 1813.97l11.68 23.35h-23.37z"/>
<path d="M1441.48 1817.86l11.68 23.35h-23.37z"/>
<path d="M1453.16 1821.76l11.68 23.35h-23.37z"/>
<path d="M1464.84 1825.65l11.68 23.35h-23.37z"/>
<path d="M1472.63 1825.65l11.68 23.35h-23.37z"/>
<path d="M1480.42 1825.65l11.68 23.35h-23.37z"/>
<path d="M1492.11 1829.54l11.68 23.35h-23.37z"/>
<path d="M1499.9 1829.54l11.68 23.35h-23.37z"/>
<path d="M1507.69 1829.54l11.68 23.35h-23.37z"/>
<path d="M1515.48 1833.43l11.68 23.35h-23.37z"/>
<path d="M1519.37 1833.43l11.68 23.35h-23.37z"/>
<path d="M1527.16 1833.43l11.68 23.35h-23.37z"/>
<path d="M1534.95 1837.32l11.68 23.35h-23.37z"/>
<path d="M1538.85 1837.32l11.68 23.35h-23.37z"/>
<path d="M1546.64 1837.32l11.68 23.35h-23.37z"/>
<path d="M1550.53 1841.21l11.68 23.35h-23.37z"/>
<path d="M1558.32 1841.21l11.68 23.35h-23.37z"/>
<path d="M1562.21 1841.21l11.68 23.35h-23.37z"/>
<path d="M1570 1841.21l11.68 23.35h-23.37z"/>
<path d="M1573.9 1841.21l11.68 23.35h-23.37z"/>
<path d="M1577.79 1845.11l11.68 23.35h-23.37z"/>
<path d="M1581.69 1845.11l11.68 23.35h-23.37z"/>
<path d="M1585.58 1845.11l11.68 23.35h-23.37z"/>
<path d="M1593.37 1845.11l11.68 23.35h-23.37z"/>
<path d="M1597.27 1845.11l11.68 23.35h-23.37z"/>
<path d="M1601.16 1845.11l11.68 23.35h-23.37z"/>
<path d="M1605.06 1845.11l11.68 23.35h-23.37z"/>
<path d="M1608.95 1849l11.68 23.35h-23.37z"/>
<path d="M1612.85 1849l11.68 23.35h-23.37z"/>
<path d="M1616.74 1849l11.68 23.35h-23.37z"/>
<path d="M1620.64 1849l11.68 23.35h-23.37z"/>
<path d="M1624.53 1849l11.68 23.35h-23.37z"/>
<path d="M1628.43 1849l11.68 23.35h-23.37z"/>
<path d="M1628.43 1849l11.68 23.35h-23.37z"/>
<path d="M1632.32 1849l11.68 23.35h-23.37z"/>
<path d="M1636.22 1849l11.68 23.35h-23.37z"/>
<path d="M1640.11 1849l11.68 23.35h-23.37z"/>
<path d="M1644.01 1849l11.68 23.35h-23.37z"/>
<path d="M1647.9 1849l11.68 23.35h-23.37z"/>
<path d="M1647.9 1849l11.68 23.35h-23.37z"/>
<path d="M1651.8 1849l11.68 23.35h-23.37z"/>
<path d="M1655.69 1849l11.68 23.35h-23.37z"/>
<path d="M1659.58 1849l11.68 23.35h-23.37z"/>
<path d="M1659.58 1849l11.68 23.35h-23.37z"/>
<path d="M1663.48 1852.89l11.68 23.35h-23.37z"/>
<path d="M1667.37 1852.89l11.68 23.35h-23.37z"/>
<path d="M1667.37 1852.89l11.68 23.35h-23.37z"/>
<path d="M1671.27 1852.89l11.68 23.35h-23.37z"/>
<path d="M1675.16 1852.89l11.68 23.35h-23.37z"/>
<path d="M1675.16 1852.89l11.68 23.35h-23.37z"/>
<path d="M1679.06 1852.89l11.68 23.35h-23.37z"/>
<path d="M1682.95 1852.89l11.68 23.35h-23.37z"/>
<path d="M1682.95 1852.89l11.68 23.35h-23.37z"/>
<path d="M1686.85 1852.89l11.68 23.35h-23.37z"/>
<path d="M1686.85 1852.89l11.68 23.35h-23.37z"/>
<path d="M1690.74 1852.89l11.68 23.35h-23.37z"/>
<path d="M1694.64 1852.89l11.68 23.35h-23.37z"/>
<path d="M1694.64 1852.89l11.68 23.35h-23.37z"/>
<path d="M1698.53 1852.89l11.68 23.35h-23.37z"/>
<path d="M1698.53 1852.89l11.68 23.35h-23.37z"/>
<path d="M1702.43 1852.89l11.68 23.35h-23.37z"/>
<path d="M1702.43 1852.89l11.68 23.35h-23.37z"/>
<path d="M1706.32 1852.89l11.68 23.35h-23.37z"/>
<path d="M1706.32 1852.89l11.68 23.35h-23.37z"/>
<path d="M1710.22 1852.89l11.68 23.35h-23.37z"/>
<path d="M1710.22 1852.89l11.68 23.35h-23.37z"/>
<path d="M1714.11 1852.89l11.68 23.35h-23.37z"/>
<path d="M1714.11 1852.89l11.68 23.35h-23.37z"/>
<path d="M1718.01 1852.89l11.68 23.35h-23.37z"/>
<path d="M1718.01 1852.89l11.68 23.35h-23.37z"/>
<path d="M1721.9 1852.89l11.68 23.35h-23.37z"/>
<path d="M1721.9 1852.89l11.68 23.35h-23.37z"/>
<path d="M1725.8 1852.89l11.68 23.35h-23.37z"/>
<path d="M1725.8 1852.89l11.68 23.35h-23.37z"/>
<path d="M1729.69 1852.89l11.68 23.35h-23.37z"/>
<path d="M1729.69 1852.89l11.68 23.35h-23.37z"/>
<path d="M1733.59 1856.78l11.68 23.35h-23.37z"/>
<path d="M1733.59 1852.89l11.68 23.35h-23.37z"/>
<path d="M1737.48 1856.78l11.68 23.35h-23.37z"/>
<path d="M1737.48 1856.78l11.68 23.35h-23.37z"/>
<path d="M1737.48 1856.78l11.68 23.35h-23.37z"/>
<path d="M1741.38 1856.78l11.68 23.35h-23.37z"/>
<path d="M1741.38 1856.78l11.68 23.35h-23.37z"/>
<path d="M1745.27 1856.78l11.68 23.35h-23.37z"/>
<path d="M1745.27 1856.78l11.68 23.35h-23.37z"/>
<path d="M1745.27 1856.78l11.68 23.35h-23.37z"/>
<path d="M1749.17 1856.78l11.68 23.35h-23.37z"/>
<path d="M1749.17 1856.78l11.68 23.35h-23.37z"/>
<path d="M1753.06 1856.78l11.68 23.35h-23.37z"/>
<path d="M1764.74 1856.78l11.68 23.35h-23.37z"/>
<path d="M1780.32 1856.78l11.68 23.35h-23.37z"/>
<path d="M1792.01 1856.78l11.68 23.35h-23.37z"/>
<path d="M1803.69 1856.78l11.68 23.35h-23.37z"/>
<path d="M1815.38 1856.78l11.68 23.35h-23.37z"/>
<path d="M1823.17 1856.78l11.68 23.35h-23.37z"/>
<path d="M1830.96 1856.78l11.68 23.35h-23.37z"/>
<path d="M1842.64 1856.78l11.68 23.35h-23.37z"/>
<path d="M1850.43 1856.78l11.68 23.35h-23.37z"/>
<path d="M1858.22 1856.78l11.68 23.35h-23.37z"/>
<path d="M1866.01 1856.78l11.68 23.35h-23.37z"/>
<path d="M1873.8 1856.78l11.68 23.35h-23.37z"/>
<path d="M1877.69 1856.78l11.68 23.35h-23.37z"/>
<path d="M1885.48 1856.78l11.68 23.35h-23.37z"/>
<path d="M1893.27 1856.78l11.68 23.35h-23.37z"/>
<path d="M1897.17 1856.78l11.68 23.35h-23.37z"/>
<path d="M1904.96 1856.78l11.68 23.35h-23.37z"/>
<path d="M1908.85 1856.78l11.68 23.35h-23.37z"/>
<path d="M1912.75 1856.78l11.68 23.35h-23.37z"/>
<path d="M1920.54 1856.78l11.68 23.35h-23.37z"/>
<path d="M1924.43 1856.78l11.68 23.35h-23.37z"/>
<path d="M1928.33 1856.78l11.68 23.35h-23.37z"/>
<path d="M1932.22 1856.78l11.68 23.35h-23.37z"/>
<path d="M1940.01 1856.78l11.68 23.35h-23.37z"/>
<path d="M1943.91 1856.78l11.68 23.35h-23.37z"/>
<path d="M1947.8 1856.78l11.68 23.35h-23.37z"/>
<path d="M1951.69 1856.78l11.68 23.35h-23.37z"/>
<path d="M1955.59 1856.78l11.68 23.35h-23.37z"/>
<path d="M1959.48 1856.78l11.68 23.35h-23.37z"/>
<path d="M1963.38 1856.78l11.68 23.35h-23.37z"/>
<path d="M1967.27 1856.78l11.68 23.35h-23.37z"/>
<path d="M1971.17 1856.78l11.68 23.35h-23.37z"/>
<path d="M1975.06 1856.78l11.68 23.35h-23.37z"/>
<path d="M1978.96 1856.78l11.68 23.35h-23.37z"/>
<path d="M1982.85 1856.78l11.68 23.35h-23.37z"/>
<path d="M1982.85 1856.78l11.68 23.35h-23.37z"/>
<path d="M1986.75 1856.78l11.68 23.35h-23.37z"/>
<path d="M1990.64 1856.78l11.68 23.35h-23.37z"/>
<path d="M1994.54 1856.78l11.68 23.35h-23.37z"/>
<path d="M1998.43 1856.78l11.68 23.35h-23.37z"/>
<path d="M1998.43 1856.78l11.68 23.35h-23.37z"/>
<path d="M2002.33 1856.78l11.68 23.35h-23.37z"/>
<path d="M2006.22 1856.78l11.68 23.35h-23.37z"/>
<path d="M2010.12 1856.78l11.68 23.35h-23.37z"/>
<path d="M2010.12 1856.78l11.68 23.35h-23.37z"/>
<path d="M2014.01 1856.78l11.68 23.35h-23.37z"/>
<path d="M2017.91 1856.78l11.68 23.35h-23.37z"/>
<path d="M2021.8 1856.78l11.68 23.35h-23.37z"/>
<path d="M2021.8 1856.78l11.68 23.35h-23.37z"/>
<path d="M2025.7 1856.78l11.68 23.35h-23.37z"/>
<path d="M2025.7 1856.78l11.68 23.35h-23.37z"/>
<path d="M2029.59 1856.78l11.68 23.35h-23.37z"/>
<path d="M2033.49 1856.78l11.68 23.35h-23.37z"/>
<path d="M2033.49 1856.78l11.68 23.35h-23.37z"/>
<path d="M2037.38 1856.78l11.68 23.35h-23.37z"/>
<path d="M2041.28 1856.78l11.68 23.35h-23.37z"/>
<path d="M2041.28 1856.78l11.68 23.35h-23.37z"/>
<path d="M2045.17 1856.78l11.68 23.35h-23.37z"/>
<path d="M2045.17 1856.78l11.68 23.35h-23.37z"/>
<path d="M2049.06 1856.78l11.68 23.35h-23.37z"/>
<path d="M2049.06 1856.78l11.68 23.35h-23.37z"/>
<path d="M2052.96 1856.78l11.68 23.35h-23.37z"/>
<path d="M2056.85 1856.78l11.68 23.35h-23.37z"/>
<path d="M2056.85 1856.78l11.68 23.35h-23.37z"/>
<path d="M2060.75 1856.78l11.68 23.35h-23.37z"/>
<path d="M2060.75 1856.78l11.68 23.35h-23.37z"/>
<path d="M2064.64 1856.78l11.68 23.35h-23.37z"/>
<path d="M2064.64 1856.78l11.68 23.35h-23.37z"/>
<path d="M2068.54 1856.78l11.68 23.35h-23.37z"/>
<path d="M2068.54 1856.78l11.68 23.35h-23.37z"/>
<path d="M2072.43 1856.78l11.68 23.35h-23.37z"/>
<path d="M2072.43 1856.78l11.68 23.35h-23.37z"/>
<path d="M2076.33 1856.78l11.68 23.35h-23.37z"/>
<path d="M2076.33 1856.78l11.68 23.35h-23.37z"/>
<path d="M2076.33 1856.78l11.68 23.35h-23.37z"/>
<path d="M2080.22 1856.78l11.68 23.35h-23.37z"/>
<path d="M2080.22 1856.78l11.68 23.35h-23.37z"/>
<path d="M2084.12 1856.78l11.68 23.35h-23.37z"/>
<path d="M2084.12 1856.78l11.68 23.35h-23.37z"/>
<path d="M2088.01 1856.78l11.68 23.35h-23.37z"/>
<path d="M2088.01 1856.78l11.68 23.35h-23.37z"/>
<path d="M2091.91 1856.78l11.68 23.35h-23.37z"/>
<path d="M2091.91 1856.78l11.68 23.35h-23.37z"/>
<path d="M2091.91 1856.78l11.68 23.35h-23.37z"/>
<path d="M2095.8 1856.78l11.68 23.35h-23.37z"/>
<path d="M2095.8 1856.78l11.68 23.35h-23.37z"/>
<path d="M2099.7 1856.78l11.68 23.35h-23.37z"/>
<path d="M2099.7 1856.78l11.68 23.35h-23.37z"/>
<path d="M2099.7 1856.78l11.68 23.35h-23.37z"/>
<path d="M2103.59 1856.78l11.68 23.35h-23.37z"/>
<path d="M2165.91 1856.78l11.68 23.35h-23.37z"/>
<path d="M2208.75 1856.78l11.68 23.35h-23.37z"/>
<path d="M2243.8 1856.78l11.68 23.35h-23.37z"/>
<path d="M2271.07 1856.78l11.68 23.35h-23.37z"/>
<path d="M2294.44 1856.78l11.68 23.35h-23.37z"/>
<path d="M2313.91 1856.78l11.68 23.35h-23.37z"/>
<path d="M2333.39 1856.78l11.68 23.35h-23.37z"/>
<path d="M2348.96 1856.78l11.68 23.35h-23.37z"/>
</g>
<g fill="none" stroke="#0000ff" stroke-width="3.89">
<circle cx="563.2" cy="325.4" r="9.74"/>
<circle cx="570.99" cy="356.53" r="9.74"/>
<circle cx="578.78" cy="387.66" r="9.74"/>
<circle cx="582.67" cy="418.8" r="9.74"/>
<circle cx="590.46" cy="449.93" r="9.74"/>
<circle cx="617.73" cy="570.57" r="9.74"/>
<circle cx="641.09" cy="663.97" r="9.74"/>
<circle cx="660.57" cy="749.59" r="9.74"/>
<circle cx="680.04" cy="804.08" r="9.74"/>
<circle cx="695.62" cy="858.56" r="9.74"/>
<circle cx="757.94" cy="1041.47" r="9.74"/>
<circle cx="800.78" cy="1150.44" r="9.74"/>
<circle cx="835.83" cy="1224.38" r="9.74"/>
<circle cx="863.1" cy="1278.86" r="9.74"/>
<circle cx="886.47" cy="1321.67" r="9.74"/>
<circle cx="905.94" cy="1356.7" r="9.74"/>
<circle cx="925.41" cy="1383.94" r="9.74"/>
<circle cx="940.99" cy="1407.29" r="9.74"/>
<circle cx="956.57" cy="1430.64" r="9.74"/>
<circle cx="968.26" cy="1450.1" r="9.74"/>
<circle cx="979.94" cy="1465.67" r="9.74"/>
<circle cx="991.63" cy="1481.23" r="9.74"/>
<circle cx="1003.31" cy="1492.91" r="9.74"/>
<circle cx="1015" cy="1504.58" r="9.74"/>
<circle cx="1022.79" cy="1516.26" r="9.74"/>
<circle cx="1030.57" cy="1527.93" r="9.74"/>
<circle cx="1038.36" cy="1535.72" r="9.74"/>
<circle cx="1046.15" cy="1547.39" r="9.74"/>
<circle cx="1151.31" cy="1648.57" r="9.74"/>
<circle cx="1213.63" cy="1699.17" r="9.74"/>
<circle cx="1260.37" cy="1734.19" r="9.74"/>
<circle cx="1291.53" cy="1757.54" r="9.74"/>
<circle cx="1318.79" cy="1773.11" r="9.74"/>
<circle cx="1346.05" cy="1784.78" r="9.74"/>
<circle cx="1365.53" cy="1796.46" r="9.74"/>
<circle cx="1381.11" cy="1804.24" r="9.74"/>
<circle cx="1400.58" cy="1812.03" r="9.74"/>
<circle cx="1412.27" cy="1815.92" r="9.74"/>
<circle cx="1427.84" cy="1819.81" r="9.74"/>
<circle cx="1439.53" cy="1823.7" r="9.74"/>
<circle cx="1451.21" cy="1827.59" r="9.74"/>
<circle cx="1462.9" cy="1831.48" r="9.74"/>
<circle cx="1470.69" cy="1835.38" r="9.74"/>
<circle cx="1478.48" cy="1839.27" r="9.74"/>
<circle cx="1490.16" cy="1839.27" r="9.74"/>
<circle cx="1497.95" cy="1843.16" r="9.74"/>
<circle cx="1505.74" cy="1843.16" r="9.74"/>
<circle cx="1513.53" cy="1843.16" r="9.74"/>
<circle cx="1517.42" cy="1843.16" r="9.74"/>
<circle cx="1525.21" cy="1847.05" r="9.74"/>
<circle cx="1533" cy="1847.05" r="9.74"/>
<circle cx="1536.9" cy="1850.94" r="9.74"/>
<circle cx="1544.69" cy="1850.94" r="9.74"/>
<circle cx="1548.58" cy="1850.94" r="9.74"/>
<circle cx="1556.37" cy="1850.94" r="9.74"/>
<circle cx="1560.27" cy="1850.94" r="9.74"/>
<circle cx="1568.06" cy="1854.84" r="9.74"/>
<circle cx="1571.95" cy="1854.84" r="9.74"/>
<circle cx="1575.85" cy="1854.84" r="9.74"/>
<circle cx="1579.74" cy="1854.84" r="9.74"/>
<circle cx="1583.64" cy="1854.84" r="9.74"/>
<circle cx="1591.43" cy="1854.84" r="9.74"/>
<circle cx="1595.32" cy="1858.73" r="9.74"/>
<circle cx="1599.22" cy="1858.73" r="9.74"/>
<circle cx="1603.11" cy="1858.73" r="9.74"/>
<circle cx="1607.01" cy="1858.73" r="9.74"/>
<circle cx="1610.9" cy="1858.73" r="9.74"/>
<circle cx="1614.79" cy="1858.73" r="9.74"/>
<circle cx="1618.69" cy="1858.73" r="9.74"/>
<circle cx="1622.58" cy="1858.73" r="9.74"/>
<circle cx="1626.48" cy="1858.73" r="9.74"/>
<circle cx="1626.48" cy="1858.73" r="9.74"/>
<circle cx="1630.37" cy="1858.73" r="9.74"/>
<circle cx="1634.27" cy="1858.73" r="9.74"/>
<circle cx="1638.16" cy="1862.62" r="9.74"/>
<circle cx="1642.06" cy="1862.62" r="9.74"/>
<circle cx="1645.95" cy="1862.62" r="9.74"/>
<circle cx="1645.95" cy="1862.62" r="9.74"/>
<circle cx="1649.85" cy="1862.62" r="9.74"/>
<circle cx="1653.74" cy="1862.62" r="9.74"/>
<circle cx="1657.64" cy="1862.62" r="9.74"/>
<circle cx="1657.64" cy="1862.62" r="9.74"/>
<circle cx="1661.53" cy="1862.62" r="9.74"/>
<circle cx="1665.43" cy="1862.62" r="9.74"/>
<circle cx="1665.43" cy="1862.62" r="9.74"/>
<circle cx="1669.32" cy="1862.62" r="9.74"/>
<circle cx="1673.22" cy="1862.62" r="9.74"/>
<circle cx="1673.22" cy="1862.62" r="9.74"/>
<circle cx="1677.11" cy="1862.62" r="9.74"/>
<circle cx="1681.01" cy="1862.62" r="9.74"/>
<circle cx="1681.01" cy="1862.62" r="9.74"/>
<circle cx="1684.9" cy="1862.62" r="9.74"/>
<circle cx="1684.9" cy="1862.62" r="9.74"/>
<circle cx="1688.8" cy="1862.62" r="9.74"/>
<circle cx="1692.69" cy="1862.62" r="9.74"/>
<circle cx="1692.69" cy="1862.62" r="9.74"/>
<circle cx="1696.59" cy="1862.62" r="9.74"/>
<circle cx="1696.59" cy="1862.62" r="9.74"/>
<circle cx="1700.48" cy="1862.62" r="9.74"/>
<circle cx="1700.48" cy="1862.62" r="9.74"/>
<circle cx="1704.38" cy="1862.62" r="9.74"/>
<circle cx="1704.38" cy="1862.62" r="9.74"/>
<circle cx="1708.27" cy="1862.62" r="9.74"/>
<circle cx="1708.27" cy="1862.62" r="9.74"/>
<circle cx="1712.16" cy="1862.62" r="9.74"/>
<circle cx="1712.16" cy="1866.51" r="9.74"/>
<circle cx="1716.06" cy="1866.51" r="9.74"/>
<circle cx="1716.06" cy="1866.51" r="9.74"/>
<circle cx="1719.95" cy="1866.51" r="9.74"/>
<circle cx="1719.95" cy="1866.51" r="9.74"/>
<circle cx="1723.85" cy="1866.51" r="9.74"/>
<circle cx="1723.85" cy="1866.51" r="9.74"/>
<circle cx="1727.74" cy="1866.51" r="9.74"/>
<circle cx="1727.74" cy="1866.51" r="9.74"/>
<circle cx="1731.64" cy="1866.51" r="9.74"/>
<circle cx="1731.64" cy="1866.51" r="9.74"/>
<circle cx="1735.53" cy="1866.51" r="9.74"/>
<circle cx="1735.53" cy="1866.51" r="9.74"/>
<circle cx="1735.53" cy="1866.51" r="9.74"/>
<circle cx="1739.43" cy="1866.51" r="9.74"/>
<circle cx="1739.43" cy="1866.51" r="9.74"/>
<circle cx="1743.32" cy="1866.51" r="9.74"/>
<circle cx="1743.32" cy="1866.51" r="9.74"/>
<circle cx="1743.32" cy="1866.51" r="9.74"/>
<circle cx="1747.22" cy="1866.51" r="9.74"/>
<circle cx="1747.22" cy="1866.51" r="9.74"/>
<circle cx="1751.11" cy="1866.51" r="9.74"/>
<circle cx="1762.8" cy="1866.51" r="9.74"/>
<circle cx="1778.38" cy="1866.51" r="9.74"/>
<circle cx="1790.06" cy="1866.51" r="9.74"/>
<circle cx="1801.75" cy="1866.51" r="9.74"/>
<circle cx="1813.43" cy="1866.51" r="9.74"/>
<circle cx="1821.22" cy="1866.51" r="9.74"/>
<circle cx="1829.01" cy="1866.51" r="9.74"/>
<circle cx="1840.69" cy="1866.51" r="9.74"/>
<circle cx="1848.48" cy="1866.51" r="9.74"/>
<circle cx="1856.27" cy="1866.51" r="9.74"/>
<circle cx="1864.06" cy="1866.51" r="9.74"/>
<circle cx="1871.85" cy="1866.51" r="9.74"/>
<circle cx="1875.75" cy="1866.51" r="9.74"/>
<circle cx="1883.54" cy="1866.51" r="9.74"/>
<circle cx="1891.33" cy="1866.51" r="9.74"/>
<circle cx="1895.22" cy="1866.51" r="9.74"/>
<circle cx="1903.01" cy="1866.51" r="9.74"/>
<circle cx="1906.9" cy="1866.51" r="9.74"/>
<circle cx="1910.8" cy="1866.51" r="9.74"/>
<circle cx="1918.59" cy="1866.51" r="9.74"/>
<circle cx="1922.48" cy="1866.51" r="9.74"/>
<circle cx="1926.38" cy="1866.51" r="9.74"/>
<circle cx="1930.27" cy="1866.51" r="9.74"/>
<circle cx="1938.06" cy="1866.51" r="9.74"/>
<circle cx="1941.96" cy="1866.51" r="9.74"/>
<circle cx="1945.85" cy="1866.51" r="9.74"/>
<circle cx="1949.75" cy="1866.51" r="9.74"/>
<circle cx="1953.64" cy="1866.51" r="9.74"/>
<circle cx="1957.54" cy="1866.51" r="9.74"/>
<circle cx="1961.43" cy="1866.51" r="9.74"/>
<circle cx="1965.33" cy="1866.51" r="9.74"/>
<circle cx="1969.22" cy="1866.51" r="9.74"/>
<circle cx="1973.12" cy="1866.51" r="9.74"/>
<circle cx="1977.01" cy="1866.51" r="9.74"/>
<circle cx="1980.91" cy="1866.51" r="9.74"/>
<circle cx="1980.91" cy="1866.51" r="9.74"/>
<circle cx="1984.8" cy="1866.51" r="9.74"/>
<circle cx="1988.7" cy="1866.51" r="9.74"/>
<circle cx="1992.59" cy="1866.51" r="9.74"/>
<circle cx="1996.49" cy="1866.51" r="9.74"/>
<circle cx="1996.49" cy="1866.51" r="9.74"/>
<circle cx="2000.38" cy="1866.51" r="9.74"/>
<circle cx="2004.27" cy="1866.51" r="9.74"/>
<circle cx="2008.17" cy="1866.51" r="9.74"/>
<circle cx="2008.17" cy="1866.51" r="9.74"/>
<circle cx="2012.06" cy="1866.51" r="9.74"/>
<circle cx="2015.96" cy="1866.51" r="9.74"/>
<circle cx="2019.85" cy="1866.51" r="9.74"/>
<circle cx="2019.85" cy="1866.51" r="9.74"/>
<circle cx="2023.75" cy="1866.51" r="9.74"/>
<circle cx="2023.75" cy="1866.51" r="9.74"/>
<circle cx="2027.64" cy="1866.51" r="9.74"/>
<circle cx="2031.54" cy="1866.51" r="9.74"/>
<circle cx="2031.54" cy="1866.51" r="9.74"/>
<circle cx="2035.43" cy="1866.51" r="9.74"/>
<circle cx="2039.33" cy="1866.51" r="9.74"/>
<circle cx="2039.33" cy="1866.51" r="9.74"/>
<circle cx="2043.22" cy="1866.51" r="9.74"/>
<circle cx="2043.22" cy="1866.51" r="9.74"/>
<circle cx="2047.12" cy="1866.51" r="9.74"/>
<circle cx="2047.12" cy="1866.51" r="9.74"/>
<circle cx="2051.01" cy="1866.51" r="9.74"/>
<circle cx="2054.91" cy="1866.51" r="9.74"/>
<circle cx="2054.91" cy="1866.51" r="9.74"/>
<circle cx="2058.8" cy="1866.51" r="9.74"/>
<circle cx="2058.8" cy="1866.51" r="9.74"/>
<circle cx="2062.7" cy="1866.51" r="9.74"/>
<circle cx="2062.7" cy="1866.51" r="9.74"/>
<circle cx="2066.59" cy="1866.51" r="9.74"/>
<circle cx="2066.59" cy="1866.51" r="9.74"/>
<circle cx="2070.49" cy="1866.51" r="9.74"/>
<circle cx="2070.49" cy="1866.51" r="9.74"/>
<circle cx="2074.38" cy="1866.51" r="9.74"/>
<circle cx="2074.38" cy="1866.51" r="9.74"/>
<circle cx="2074.38" cy="1866.51" r="9.74"/>
<circle cx="2078.28" cy="1866.51" r="9.74"/>
<circle cx="2078.28" cy="1866.51" r="9.74"/>
<circle cx="2082.17" cy="1866.51" r="9.74"/>
<circle cx="2082.17" cy="1866.51" r="9.74"/>
<circle cx="2086.07" cy="1866.51" r="9.74"/>
<circle cx="2086.07" cy="1866.51" r="9.74"/>
<circle cx="2089.96" cy="1866.51" r="9.74"/>
<circle cx="2089.96" cy="1866.51" r="9.74"/>
<circle cx="2089.96" cy="1866.51" r="9.74"/>
<circle cx="2093.86" cy="1866.51" r="9.74"/>
<circle cx="2093.86" cy="1866.51" r="9.74"/>
<circle cx="2097.75" cy="1866.51" r="9.74"/>
<circle cx="2097.75" cy="1866.51" r="9.74"/>
<circle cx="2097.75" cy="1866.51" r="9.74"/>
<circle cx="2101.64" cy="1866.51" r="9.74"/>
<circle cx="2163.96" cy="1866.51" r="9.74"/>
<circle cx="2206.8" cy="1866.51" r="9.74"/>
<circle cx="2241.86" cy="1866.51" r="9.74"/>
<circle cx="2269.12" cy="1866.51" r="9.74"/>
<circle cx="2292.49" cy="1866.51" r="9.74"/>
<circle cx="2311.96" cy="1866.51" r="9.74"/>
<circle cx="2331.44" cy="1866.51" r="9.74"/>
<circle cx="2347.02" cy="1866.51" r="9.74"/>
</g>
</g>
</svg></body></html>
